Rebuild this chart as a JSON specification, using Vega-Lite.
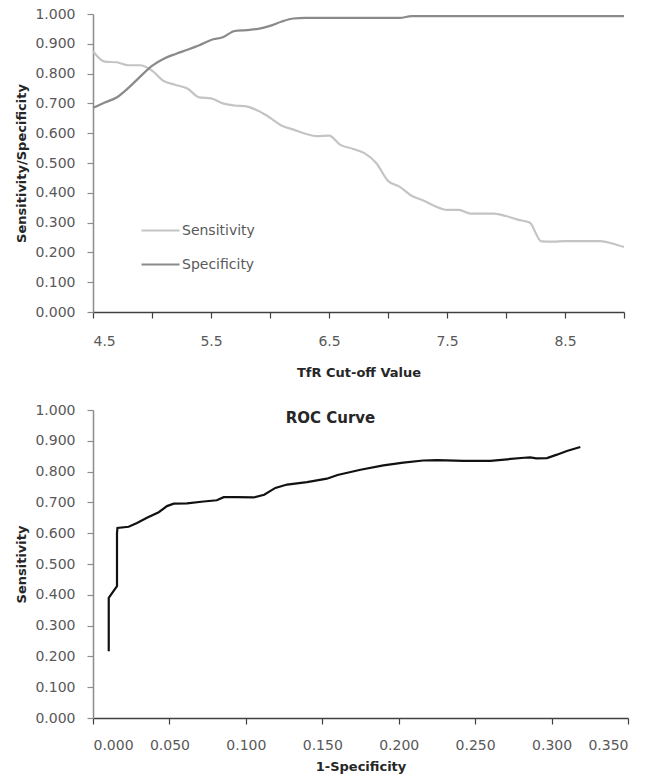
{
  "$schema": "https://vega.github.io/schema/vega-lite/v6.json",
  "padding": {"left": 15, "top": 7, "right": 10, "bottom": 5},
  "background": "white",
  "spacing": 98,
  "bounds": "flush",
  "config": {
    "view": {"stroke": null},
    "font": "DejaVu Sans",
    "axis": {
      "grid": false,
      "labelFont": "DejaVu Sans",
      "labelFontSize": 14,
      "labelColor": "#595959",
      "titleFont": "DejaVu Sans",
      "titleFontSize": 13,
      "titleFontWeight": "bold",
      "titleColor": "#262626",
      "tickSize": 6,
      "domainWidth": 1.5,
      "tickWidth": 1.2
    },
    "axisY": {"domainColor": "#8c8c8c", "tickColor": "#8c8c8c", "labelPadding": 12, "titlePadding": 6},
    "axisX": {"domainColor": "#404040", "tickColor": "#404040", "labelPadding": 16, "titlePadding": 18}
  },
  "vconcat": [
    {
      "width": 531,
      "height": 298,
      "data": {"values": [
        {"cutoff": 4.5, "measure": "Sensitivity", "value": 0.875},
        {"cutoff": 4.6, "measure": "Sensitivity", "value": 0.840},
        {"cutoff": 4.7, "measure": "Sensitivity", "value": 0.838},
        {"cutoff": 4.8, "measure": "Sensitivity", "value": 0.828},
        {"cutoff": 4.9, "measure": "Sensitivity", "value": 0.828},
        {"cutoff": 5.0, "measure": "Sensitivity", "value": 0.810},
        {"cutoff": 5.1, "measure": "Sensitivity", "value": 0.775},
        {"cutoff": 5.2, "measure": "Sensitivity", "value": 0.762},
        {"cutoff": 5.3, "measure": "Sensitivity", "value": 0.750},
        {"cutoff": 5.4, "measure": "Sensitivity", "value": 0.720},
        {"cutoff": 5.5, "measure": "Sensitivity", "value": 0.717},
        {"cutoff": 5.6, "measure": "Sensitivity", "value": 0.700},
        {"cutoff": 5.7, "measure": "Sensitivity", "value": 0.693},
        {"cutoff": 5.8, "measure": "Sensitivity", "value": 0.690},
        {"cutoff": 5.9, "measure": "Sensitivity", "value": 0.675},
        {"cutoff": 6.0, "measure": "Sensitivity", "value": 0.652},
        {"cutoff": 6.1, "measure": "Sensitivity", "value": 0.625},
        {"cutoff": 6.2, "measure": "Sensitivity", "value": 0.612},
        {"cutoff": 6.3, "measure": "Sensitivity", "value": 0.598},
        {"cutoff": 6.4, "measure": "Sensitivity", "value": 0.590},
        {"cutoff": 6.5, "measure": "Sensitivity", "value": 0.592},
        {"cutoff": 6.6, "measure": "Sensitivity", "value": 0.560},
        {"cutoff": 6.7, "measure": "Sensitivity", "value": 0.548},
        {"cutoff": 6.8, "measure": "Sensitivity", "value": 0.533},
        {"cutoff": 6.9, "measure": "Sensitivity", "value": 0.500},
        {"cutoff": 7.0, "measure": "Sensitivity", "value": 0.440},
        {"cutoff": 7.1, "measure": "Sensitivity", "value": 0.420},
        {"cutoff": 7.2, "measure": "Sensitivity", "value": 0.390},
        {"cutoff": 7.3, "measure": "Sensitivity", "value": 0.374},
        {"cutoff": 7.4, "measure": "Sensitivity", "value": 0.355},
        {"cutoff": 7.5, "measure": "Sensitivity", "value": 0.343},
        {"cutoff": 7.6, "measure": "Sensitivity", "value": 0.343},
        {"cutoff": 7.7, "measure": "Sensitivity", "value": 0.330},
        {"cutoff": 7.8, "measure": "Sensitivity", "value": 0.330},
        {"cutoff": 7.9, "measure": "Sensitivity", "value": 0.330},
        {"cutoff": 8.0, "measure": "Sensitivity", "value": 0.322},
        {"cutoff": 8.1, "measure": "Sensitivity", "value": 0.310},
        {"cutoff": 8.2, "measure": "Sensitivity", "value": 0.300},
        {"cutoff": 8.3, "measure": "Sensitivity", "value": 0.237},
        {"cutoff": 8.4, "measure": "Sensitivity", "value": 0.236},
        {"cutoff": 8.5, "measure": "Sensitivity", "value": 0.238},
        {"cutoff": 8.6, "measure": "Sensitivity", "value": 0.238},
        {"cutoff": 8.7, "measure": "Sensitivity", "value": 0.238},
        {"cutoff": 8.8, "measure": "Sensitivity", "value": 0.238},
        {"cutoff": 8.9, "measure": "Sensitivity", "value": 0.230},
        {"cutoff": 9.0, "measure": "Sensitivity", "value": 0.218},
        {"cutoff": 4.5, "measure": "Specificity", "value": 0.685},
        {"cutoff": 4.6, "measure": "Specificity", "value": 0.703},
        {"cutoff": 4.7, "measure": "Specificity", "value": 0.720},
        {"cutoff": 4.8, "measure": "Specificity", "value": 0.752},
        {"cutoff": 4.9, "measure": "Specificity", "value": 0.790},
        {"cutoff": 5.0, "measure": "Specificity", "value": 0.826},
        {"cutoff": 5.1, "measure": "Specificity", "value": 0.850},
        {"cutoff": 5.2, "measure": "Specificity", "value": 0.866},
        {"cutoff": 5.3, "measure": "Specificity", "value": 0.880},
        {"cutoff": 5.4, "measure": "Specificity", "value": 0.895},
        {"cutoff": 5.5, "measure": "Specificity", "value": 0.913},
        {"cutoff": 5.6, "measure": "Specificity", "value": 0.922},
        {"cutoff": 5.7, "measure": "Specificity", "value": 0.943},
        {"cutoff": 5.8, "measure": "Specificity", "value": 0.946},
        {"cutoff": 5.9, "measure": "Specificity", "value": 0.950},
        {"cutoff": 6.0, "measure": "Specificity", "value": 0.960},
        {"cutoff": 6.1, "measure": "Specificity", "value": 0.975},
        {"cutoff": 6.2, "measure": "Specificity", "value": 0.985},
        {"cutoff": 6.3, "measure": "Specificity", "value": 0.987},
        {"cutoff": 6.5, "measure": "Specificity", "value": 0.987},
        {"cutoff": 7.0, "measure": "Specificity", "value": 0.987},
        {"cutoff": 7.1, "measure": "Specificity", "value": 0.987},
        {"cutoff": 7.2, "measure": "Specificity", "value": 0.993},
        {"cutoff": 8.0, "measure": "Specificity", "value": 0.993},
        {"cutoff": 9.0, "measure": "Specificity", "value": 0.993}
      ]},
      "mark": {"type": "line", "strokeWidth": 2.2, "interpolate": "monotone"},
      "encoding": {
        "x": {
          "field": "cutoff", "type": "quantitative",
          "scale": {"domain": [4.5, 9], "nice": false, "zero": false},
          "axis": {
            "title": "TfR Cut-off Value",
            "values": [4.5, 5, 5.5, 6, 6.5, 7, 7.5, 8, 8.5, 9],
            "labelExpr": "(datum.value * 2) % 2 == 1 ? format(datum.value, '.1f') : ''"
          }
        },
        "y": {
          "field": "value", "type": "quantitative",
          "scale": {"domain": [0, 1], "nice": false},
          "axis": {
            "title": "Sensitivity/Specificity",
            "values": [0, 0.1, 0.2, 0.3, 0.4, 0.5, 0.6, 0.7, 0.8, 0.9, 1.0],
            "format": ".3f"
          }
        },
        "color": {
          "field": "measure", "type": "nominal",
          "scale": {"domain": ["Sensitivity", "Specificity"], "range": ["#c4c4c4", "#8a8a8a"]},
          "legend": {
            "title": null,
            "orient": "none",
            "legendX": 47,
            "legendY": 196,
            "padding": 0,
            "symbolType": "stroke",
            "symbolSize": 1444,
            "symbolStrokeWidth": 2.2,
            "labelFont": "DejaVu Sans",
            "labelFontSize": 14,
            "labelColor": "#595959",
            "labelOffset": 1,
            "rowPadding": 6
          }
        }
      }
    },
    {
      "width": 535,
      "height": 308,
      "title": {"text": "ROC Curve", "font": "DejaVu Sans", "fontSize": 15, "fontWeight": "bold", "color": "#262626", "anchor": "middle", "dx": -30, "dy": 27, "baseline": "top"},
      "data": {"values": [
        {"i": 1, "fpr": 0.0103, "sens": 0.217},
        {"i": 2, "fpr": 0.0103, "sens": 0.390},
        {"i": 3, "fpr": 0.0157, "sens": 0.428},
        {"i": 4, "fpr": 0.0157, "sens": 0.600},
        {"i": 5, "fpr": 0.0160, "sens": 0.617},
        {"i": 6, "fpr": 0.0233, "sens": 0.621},
        {"i": 7, "fpr": 0.0288, "sens": 0.633},
        {"i": 8, "fpr": 0.0353, "sens": 0.650},
        {"i": 9, "fpr": 0.0430, "sens": 0.668},
        {"i": 10, "fpr": 0.0484, "sens": 0.688},
        {"i": 11, "fpr": 0.0528, "sens": 0.696},
        {"i": 12, "fpr": 0.0615, "sens": 0.697},
        {"i": 13, "fpr": 0.0724, "sens": 0.703},
        {"i": 14, "fpr": 0.0810, "sens": 0.707},
        {"i": 15, "fpr": 0.0855, "sens": 0.717},
        {"i": 16, "fpr": 0.0940, "sens": 0.717},
        {"i": 17, "fpr": 0.1050, "sens": 0.716},
        {"i": 18, "fpr": 0.1120, "sens": 0.725},
        {"i": 19, "fpr": 0.1193, "sens": 0.747},
        {"i": 20, "fpr": 0.1270, "sens": 0.758},
        {"i": 21, "fpr": 0.1400, "sens": 0.766},
        {"i": 22, "fpr": 0.1530, "sens": 0.777},
        {"i": 23, "fpr": 0.1600, "sens": 0.789},
        {"i": 24, "fpr": 0.1750, "sens": 0.806},
        {"i": 25, "fpr": 0.1900, "sens": 0.820},
        {"i": 26, "fpr": 0.2030, "sens": 0.829},
        {"i": 27, "fpr": 0.2160, "sens": 0.836},
        {"i": 28, "fpr": 0.2250, "sens": 0.837},
        {"i": 29, "fpr": 0.2425, "sens": 0.835},
        {"i": 30, "fpr": 0.2600, "sens": 0.835},
        {"i": 31, "fpr": 0.2710, "sens": 0.840},
        {"i": 32, "fpr": 0.2820, "sens": 0.845},
        {"i": 33, "fpr": 0.2860, "sens": 0.846},
        {"i": 34, "fpr": 0.2900, "sens": 0.843},
        {"i": 35, "fpr": 0.2970, "sens": 0.844},
        {"i": 36, "fpr": 0.3035, "sens": 0.855},
        {"i": 37, "fpr": 0.3100, "sens": 0.867},
        {"i": 38, "fpr": 0.3188, "sens": 0.880}
      ]},
      "mark": {"type": "line", "color": "#111111", "strokeWidth": 2.2},
      "encoding": {
        "x": {
          "field": "fpr", "type": "quantitative",
          "scale": {"domain": [0, 0.35], "nice": false},
          "axis": {
            "title": "1-Specificity",
            "values": [0, 0.05, 0.1, 0.15, 0.2, 0.25, 0.3, 0.35],
            "format": ".3f",
            "labelPadding": 14,
            "titlePadding": 8
          }
        },
        "y": {
          "field": "sens", "type": "quantitative",
          "scale": {"domain": [0, 1], "nice": false},
          "axis": {
            "title": "Sensitivity",
            "values": [0, 0.1, 0.2, 0.3, 0.4, 0.5, 0.6, 0.7, 0.8, 0.9, 1.0],
            "format": ".3f"
          }
        },
        "order": {"field": "i", "type": "quantitative"}
      }
    }
  ]
}
